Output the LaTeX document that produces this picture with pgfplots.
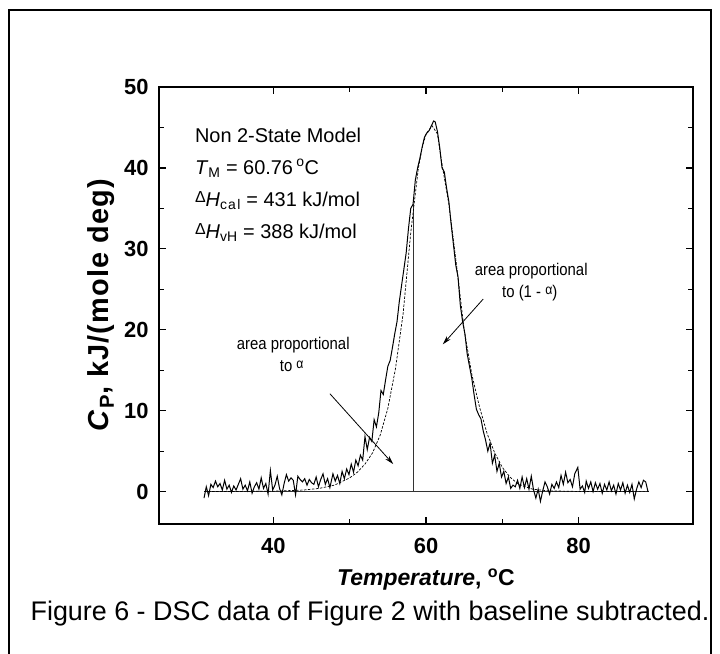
\documentclass[border=0pt]{standalone}
\usepackage{pgfplots}
\pgfplotsset{compat=1.18}
\usepackage{fontspec}
\setmainfont{Liberation Sans}
\newfontfamily\cond[FakeStretch=0.88]{Liberation Sans}
\newfontfamily\spaced[LetterSpace=4]{Liberation Sans}
\usetikzlibrary{arrows.meta}
\newcommand{\fs}[1]{\fontsize{#1}{#1}\selectfont}
\begin{document}
\begin{tikzpicture}[x=1bp,y=1bp]
\useasboundingbox (0,0) rectangle (720,654);
\draw[line width=1.5bp] (9,0) -- (9,644) -- (711,644) -- (711,0);
\begin{axis}[
  at={(159bp,130bp)}, anchor=south west,
  scale only axis, width=534bp, height=437bp,
  xmin=25, xmax=95, ymin=-4, ymax=50,
  xtick={40,60,80}, minor x tick num=1,
  ytick={0,10,...,50}, minor y tick num=1,
  major tick length=7bp, minor tick length=5bp,
  axis line style={line width=1.6bp},
  every tick/.style={line width=1.2bp, black},
  tick align=inside,
  /pgf/number format/assume math mode=true,
  ticklabel style={font=\bfseries\fs{22}},
  xticklabel style={yshift=-11bp},
  yticklabel style={xshift=-7bp},
  clip=false,
]
% baseline and split line
\addplot[line width=0.8bp, black!80] coordinates {(30.9,0) (89.2,0)};
\addplot[line width=0.8bp, black!80] coordinates {(58.3,0) (58.3,35.5)};
% fitted curve
\addplot[line width=0.7bp, dash pattern=on 2.5bp off 1.5bp, black] coordinates {
(30.9,0) (40,0.05) (44,0.2) (46,0.4) (48,0.8) (50,1.7) (51,2.4) (52,3.4) (53,4.8)
(54,7.0) (55,10.3) (56,15.2) (57,22) (58,32) (59,40) (59.5,42.5) (60,44.2)
(60.8,45.2) (61.5,44.2) (62,41) (63,35.5) (64,28) (65,20) (66,14.5) (67,10.5)
(68,7.2) (69,4.8) (70,3.0) (71,1.8) (72,1.0) (73,0.6) (74,0.3) (76,0.1) (80,0.02) (89.2,0)
};
% measured data
\addplot[line width=1bp, black] coordinates {
(30.9,-0.8) (31.2,0.6) (31.5,-0.5) (31.8,0.9) (32.1,0.5) (32.4,1.3) (32.7,0.6)
(33.0,1.0) (33.3,0.2) (33.6,1.4) (33.9,0.3) (34.2,0.8) (34.5,-0.1) (34.8,0.7)
(35.1,0.2) (35.4,0.9) (35.7,1.6) (36.0,0.3) (36.3,0.8) (36.6,0.1) (36.9,1.2)
(37.2,-0.2) (37.5,0.6) (37.8,1.1) (38.1,0.3) (38.4,1.7) (38.7,0.4) (39.0,1.0)
(39.3,-0.3) (39.6,2.6) (39.9,0.2) (40.2,0.8) (40.5,1.9) (40.8,0.4) (41.1,-0.4)
(41.4,1.0) (41.7,2.1) (42.0,1.3) (42.3,1.7) (42.6,1.4) (42.9,-0.4) (43.2,1.9)
(43.5,1.5) (43.8,1.2) (44.1,1.6) (44.4,0.8) (44.7,1.5) (45.0,1.1) (45.3,0.9)
(45.6,1.8) (45.9,0.6) (46.2,1.5) (46.5,2.2) (46.8,0.9) (47.1,1.6) (47.4,0.5)
(47.8,2.2) (48.1,1.3) (48.4,2.0) (48.7,1.0) (49.0,2.5) (49.3,1.6) (49.6,2.8)
(49.9,2.1) (50.2,3.4) (50.5,2.4) (50.8,3.9) (51.1,3.2) (51.4,4.5) (51.7,3.9)
(52.0,6.8) (52.3,5.2) (52.6,6.7) (52.9,6.2) (53.2,8.9) (53.5,8.0) (53.8,9.7)
(54.1,12.5) (54.4,12.0) (54.7,13.8) (55.0,15.5) (55.3,16.2) (55.6,17.8)
(55.9,19.5) (56.2,21.0) (56.5,23.5) (56.8,25.5) (57.1,27.5) (57.4,29.5)
(57.7,32.5) (58.0,35.0) (58.3,35.5) (58.6,38.5) (58.9,40.0) (59.2,41.2)
(59.5,42.6) (59.8,43.8) (60.1,44.3) (60.4,44.6) (60.7,45.2) (61.0,45.8)
(61.2,45.7) (61.5,44.5) (61.8,42.5) (62.1,40.0) (62.4,39.5) (62.7,37.5)
(63.0,35.8) (63.3,33.0) (63.6,30.5) (63.9,28.0) (64.2,26.5) (64.5,23.0)
(64.8,21.0) (65.1,19.5) (65.4,17.0) (65.7,15.5) (66.0,14.0) (66.3,12.0)
(66.6,10.2) (66.9,9.5) (67.2,9.0) (67.5,7.5) (67.8,6.4) (68.1,5.0) (68.4,6.0)
(68.7,3.5) (69.0,4.5) (69.3,2.5) (69.6,3.5) (69.9,1.8) (70.2,2.5) (70.5,1.0)
(70.8,1.8) (71.1,0.4) (71.4,0.8) (71.7,0.6) (72.0,1.4) (72.3,0.4) (72.6,1.8)
(72.9,0.5) (73.2,1.6) (73.5,0.3) (73.8,1.9) (74.1,0.2) (74.4,-0.8) (74.7,0.3)
(75.0,-1.2) (75.3,0.1) (75.6,1.2) (75.9,0.6) (76.2,-0.3) (76.5,0.9) (76.8,0.4)
(77.1,1.2) (77.4,0.5) (77.7,2.0) (78.0,0.9) (78.3,2.4) (78.6,1.1) (78.9,1.5)
(79.2,0.6) (79.5,2.2) (79.9,3.0) (80.2,0.3) (80.5,0.7) (80.8,-0.1) (81.0,1.3)
(81.3,0.4) (81.6,1.2) (81.9,0.0) (82.2,1.1) (82.5,0.3) (82.8,1.0) (83.1,-0.2)
(83.4,0.9) (83.7,0.2) (84.0,1.2) (84.3,0.1) (84.6,0.8) (84.9,-0.3) (85.2,1.0)
(85.5,0.2) (85.8,1.1) (86.1,-0.2) (86.4,0.8) (86.7,-0.1) (87.0,0.9) (87.3,-0.9)
(87.6,0.3) (87.9,1.2) (88.2,0.5) (88.5,1.4) (88.8,1.2) (89.1,0.0)
};
% text block
\node[anchor=base west, font=\fs{20}, inner sep=0] at (axis cs:29.7,43.1) {Non 2-State Model};
\node[anchor=base west, font=\fs{20}, inner sep=0] at (axis cs:29.7,39.2) {\textit{T}\textsubscript{M} = 60.76\,\textsuperscript{o}C};
\node[anchor=base west, font=\fs{20}, inner sep=0] at (axis cs:29.7,35.2) {\raisebox{4bp}{\fs{16}Δ}\textit{H}\textsubscript{c\kern1pt a\kern1.5pt l} = 431 kJ/mol};
\node[anchor=base west, font=\fs{20}, inner sep=0] at (axis cs:29.7,31.3) {\raisebox{4bp}{\fs{16}Δ}\textit{H}\textsubscript{vH} = 388 kJ/mol};
% annotations
\node[anchor=base, font=\cond\fs{17}, inner sep=0] at (axis cs:73.8,26.7) {area proportional};
\node[anchor=base, font=\cond\fs{17}, inner sep=0] at (axis cs:73.6,24.0) {to (1 - \raisebox{3bp}{\fs{14}α})};
\node[anchor=base, font=\cond\fs{17}, inner sep=0] at (axis cs:42.6,17.6) {area proportional};
\node[anchor=base, font=\cond\fs{17}, inner sep=0] at (axis cs:42.4,14.9) {to \raisebox{3bp}{\fs{14}α}};
\draw[line width=0.8bp, -{Stealth[length=9bp,width=5bp]}] (axis cs:67.5,23.8) -- (axis cs:62.2,18.2);
\draw[line width=0.8bp, -{Stealth[length=9bp,width=5bp]}] (axis cs:47.4,12.1) -- (axis cs:55.7,3.4);
\end{axis}
% axis labels and caption
\node[rotate=90, font=\spaced\bfseries\fs{29}] at (101,349) {\textit{C}\textsubscript{P}, kJ/(mole deg)};
\node[anchor=base, font=\bfseries\fs{23}] at (426,68) {\textit{Temperature}, \textsuperscript{o}C};
\node[anchor=base, font=\fs{27}] at (370,33) {Figure 6 - DSC data of Figure 2 with baseline subtracted.};
\end{tikzpicture}
\end{document}
